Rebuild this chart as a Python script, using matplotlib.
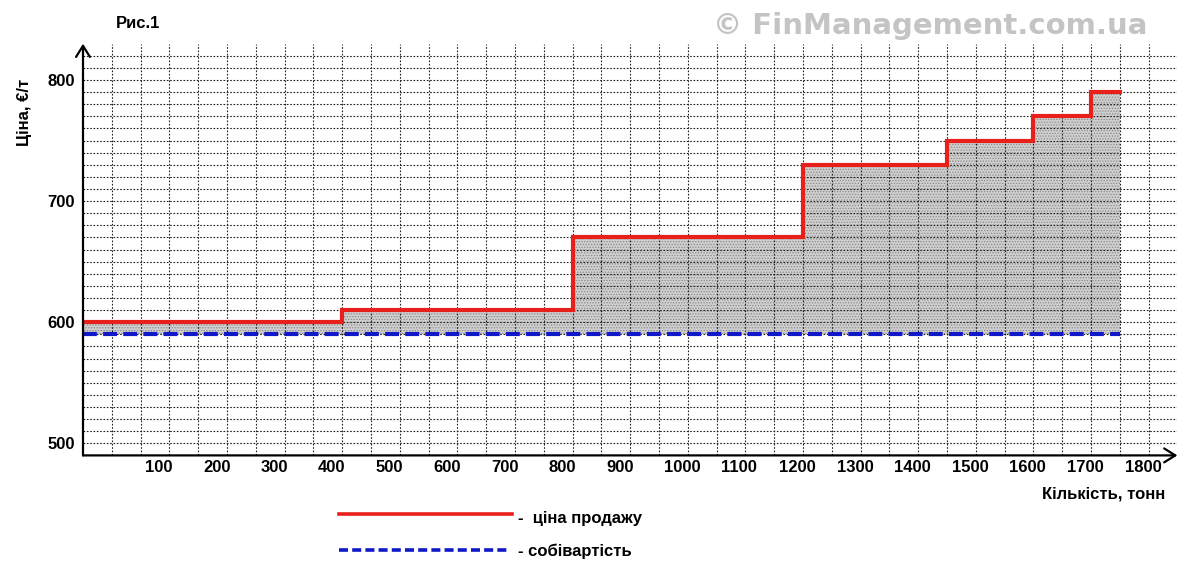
import matplotlib
matplotlib.use("Agg")
import matplotlib.pyplot as plt
from matplotlib.transforms import ScaledTranslation, blended_transform_factory
from matplotlib.lines import Line2D
import numpy as np

plt.rcParams['font.family'] = ['Liberation Sans', 'DejaVu Sans']
plt.rcParams['font.weight'] = 'bold'
plt.rcParams['hatch.linewidth'] = 0.6
plt.rcParams['lines.scale_dashes'] = False

# ---- data ----
step_edges = [0, 400, 800, 1200, 1450, 1600, 1700, 1750]   # tonnes
sale_price = [600, 610, 670, 730, 750, 770, 790]            # EUR/t
unit_cost = 590                                              # EUR/t
x_ticks = [100, 200, 300, 400, 500, 600, 700, 800, 900, 1000,
           1100, 1200, 1300, 1400, 1500, 1600, 1700, 1800]
y_ticks = [500, 600, 700, 800]

title = "Рис.1"
y_label = "Ціна, €/т"
x_label = "Кількість, тонн"
legend_price = "-  ціна продажу"
legend_cost = "- собівартість"
watermark = "© FinManagement.com.ua"

W, H = 1200, 579
fig = plt.figure(figsize=(W / 100, H / 100), dpi=100)
ax = fig.add_axes([83 / W, 1 - 455.4 / H, 1094.4 / W, 411.7 / H])
xmin, xmax = -50, 1850
ymin, ymax = 490, 830
ax.set_xlim(xmin, xmax)
ax.set_ylim(ymin, ymax)

# step curve (first segment extended to the axis)
xs = [xmin]
ys = [sale_price[0]]
for i, p in enumerate(sale_price):
    xs += [step_edges[i + 1]]
    ys += [p]
    if i + 1 < len(sale_price):
        xs += [step_edges[i + 1]]
        ys += [sale_price[i + 1]]
xs = np.array(xs, dtype=float)
ys = np.array(ys, dtype=float)

# fill between price and cost
fx = [xmin] + step_edges[1:]
fy = sale_price + [sale_price[-1]]
ax.fill_between(fx, fy, unit_cost, step='post', facecolor='#cfcfcf',
                edgecolor='#8a8a8a', hatch='......', linewidth=0, zorder=1)

# grid
ax.set_xticks(x_ticks)
ax.set_yticks(y_ticks)
ax.set_xticks(np.arange(0, 1801, 50), minor=True)
ax.set_yticks(np.arange(500, 821, 10), minor=True)
ax.grid(which='both', color='#222222', linestyle=(0, (1.2, 1.2)), linewidth=0.8, zorder=2)
ax.set_axisbelow(False)

ax.plot(xs, ys, color='#e8201c', linewidth=3.0, solid_joinstyle='miter', zorder=4)
ax.plot([xmin, step_edges[-1]], [unit_cost, unit_cost], color='#1018c8', linewidth=3.0,
        linestyle=(0, (10, 4.5)), zorder=3)

# tick labels (x labels sit left-aligned just after the preceding grid line)
ax.set_xticklabels([])
xt = blended_transform_factory(ax.transData, ax.transAxes)
off = ScaledTranslation(-0.24, -0.12, fig.dpi_scale_trans)
for v in x_ticks:
    ax.text(v, 0, str(v), transform=xt + off, ha='left', va='center',
            fontsize=12, fontweight='bold', clip_on=False)
ax.set_yticklabels([str(v) for v in y_ticks], fontsize=12, fontweight='bold')
ax.tick_params(which='both', length=0)
ax.tick_params(axis='y', pad=6)

for s in ax.spines.values():
    s.set_visible(False)

# axes with arrows
arrow_kw = dict(arrowstyle='->,head_length=0.8,head_width=0.5', lw=1.6, color='black',
                shrinkA=0, shrinkB=0)
ax.annotate('', xy=(1.0, 0), xytext=(0, 0), xycoords='axes fraction', arrowprops=arrow_kw,
            zorder=6, annotation_clip=False)
ax.annotate('', xy=(0, 1.0), xytext=(0, 0), xycoords='axes fraction', arrowprops=arrow_kw,
            zorder=6, annotation_clip=False)

# texts
fig.text(116 / W, 1 - 24 / H, title, fontsize=12, fontweight='bold', ha='left', va='center')
fig.text(25 / W, 1 - 112 / H, y_label, fontsize=12, fontweight='bold', rotation=90,
         ha='center', va='center')
fig.text(1165 / W, 1 - 494 / H, x_label, fontsize=12, fontweight='bold', ha='right', va='center')
fig.text(1147 / W, 1 - 26 / H, watermark, fontsize=21, fontweight='bold', color='#c4c4c4',
         ha='right', va='center', family=['DejaVu Sans'])

# legend
fig.add_artist(Line2D([339 / W, 512 / W], [1 - 514 / H, 1 - 514 / H], color='#e8201c',
                      linewidth=2.6, transform=fig.transFigure))
fig.add_artist(Line2D([339 / W, 510 / W], [1 - 550 / H, 1 - 550 / H], color='#1018c8',
                      linewidth=2.6, linestyle=(0, (6.5, 3.0)), transform=fig.transFigure))
fig.text(518 / W, 1 - 518 / H, legend_price, fontsize=12, fontweight='bold', ha='left', va='center')
fig.text(518 / W, 1 - 551 / H, legend_cost, fontsize=12, fontweight='bold', ha='left', va='center')

fig.savefig('out.png', dpi=100)
